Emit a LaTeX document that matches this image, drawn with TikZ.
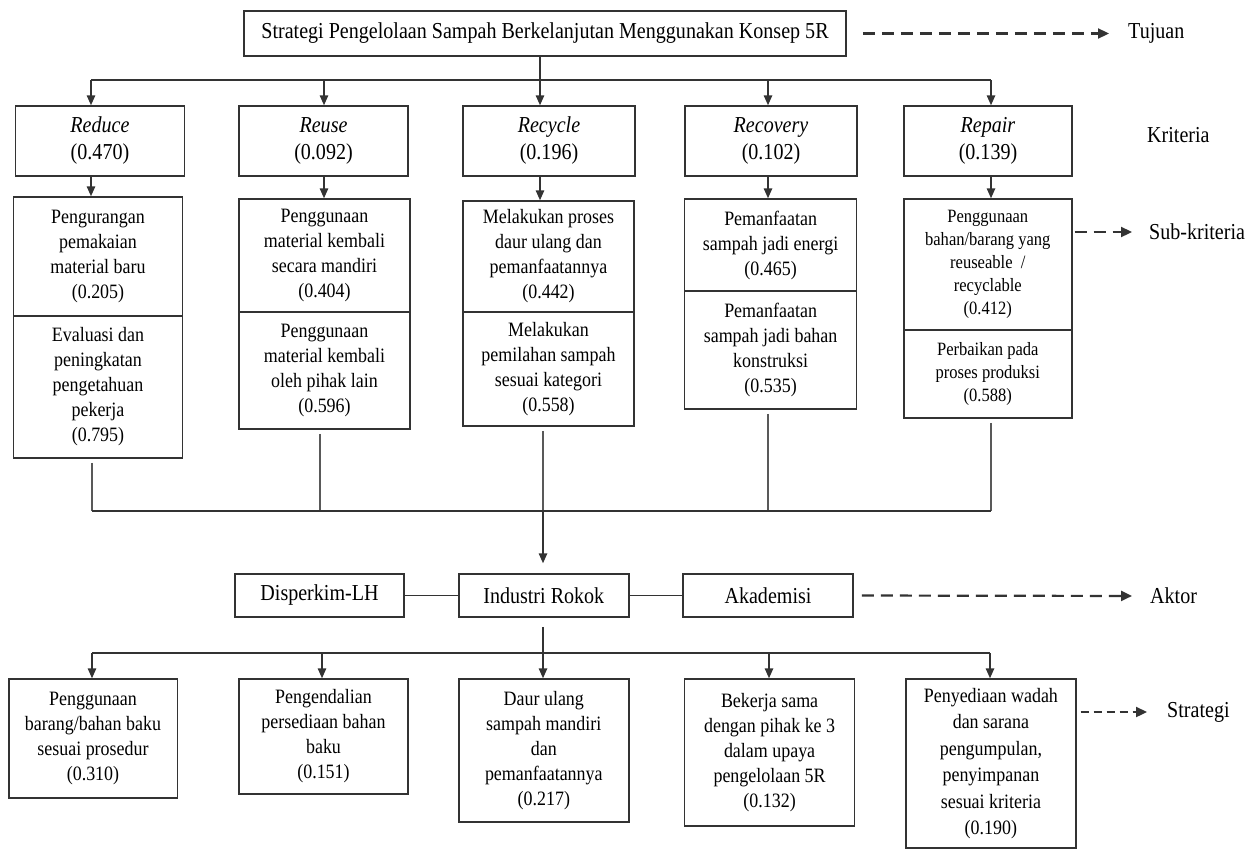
\documentclass[tikz,border=0pt]{standalone}
\usepackage{fontspec}
\setmainfont{Liberation Serif}[FakeStretch=0.88]
\usetikzlibrary{arrows.meta}
\begin{document}
\begin{tikzpicture}[x=1pt,y=-1pt,
  box/.style={draw=black!80, line width=1.5pt, align=center, inner sep=0pt, font=\fontsize{20.4}{25}\selectfont, text=black},
  bigbox/.style={box, font=\fontsize{22.8}{27}\selectfont},
  smallbox/.style={box, font=\fontsize{18.8}{23}\selectfont},
  ln/.style={draw=black!80, line width=1.5pt},
  thinln/.style={draw=black!65, line width=1.1pt},
  arr/.style={ln, -{Triangle[length=10pt,width=8.5pt]}},
  darr/.style={ln, line width=2.2pt, dash pattern=on 12pt off 7pt, -{Triangle[length=11pt,width=10pt]}},
  lbl/.style={font=\fontsize{22.8}{26}\selectfont, anchor=west, inner sep=0pt, text=black}]
\useasboundingbox (0,0) rectangle (1257,851);

% goal
\node[bigbox, minimum width=602pt, minimum height=45pt] (title) at (545,33.5)
  {Strategi Pengelolaan Sampah Berkelanjutan Menggunakan Konsep 5R};
\node[lbl] (tuj) at (1128,33.5) {Tujuan};
\draw[darr, shorten <=16pt, shorten >=19pt] (title.east) -- (tuj.west);

% criteria
\node[bigbox, minimum width=169pt, minimum height=70pt] (rd) at (100,141) {\textit{Reduce}\\(0.470)};
\node[bigbox, minimum width=169pt, minimum height=70pt] (ru) at (323.5,141) {\textit{Reuse}\\(0.092)};
\node[bigbox, minimum width=172pt, minimum height=70pt] (rc) at (549,141) {\textit{Recycle}\\(0.196)};
\node[bigbox, minimum width=172pt, minimum height=70pt] (rv) at (771,141) {\textit{Recovery}\\(0.102)};
\node[bigbox, minimum width=168pt, minimum height=70pt] (rp) at (988,141) {\textit{Repair}\\(0.139)};
\node[lbl] (krit) at (1147,135) {Kriteria};

\coordinate (t1) at (91,80);
\coordinate (t2) at (324,80);
\coordinate (t3) at (540,80);
\coordinate (t4) at (768,80);
\coordinate (t5) at (991,80);
\draw[ln] (t1) -- (t5);
\draw[arr] (t3 |- title.south) -- (t3 |- rc.north);
\draw[arr] (t1) -- (t1 |- rd.north);
\draw[arr] (t2) -- (t2 |- ru.north);
\draw[arr] (t4) -- (t4 |- rv.north);
\draw[arr] (t5) -- (t5 |- rp.north);

% sub-criteria
\node[box, minimum width=169pt, minimum height=119pt] (rdA) at (98,256.5) {Pengurangan\\pemakaian\\material baru\\(0.205)};
\node[box, minimum width=169pt, minimum height=142pt] (rdB) at (98,387) {Evaluasi dan\\peningkatan\\pengetahuan\\pekerja\\(0.795)};
\node[box, minimum width=171pt, minimum height=113pt] (ruA) at (324.5,255.5) {Penggunaan\\material kembali\\secara mandiri\\(0.404)};
\node[box, minimum width=171pt, minimum height=117pt] (ruB) at (324.5,370.5) {Penggunaan\\material kembali\\oleh pihak lain\\(0.596)};
\node[box, minimum width=171pt, minimum height=111pt] (rcA) at (548.5,256.5) {Melakukan proses\\daur ulang dan\\pemanfaatannya\\(0.442)};
\node[box, minimum width=171pt, minimum height=114pt] (rcB) at (548.5,369) {Melakukan\\pemilahan sampah\\sesuai kategori\\(0.558)};
\node[box, minimum width=172pt, minimum height=92pt] (rvA) at (770.6,245) {Pemanfaatan\\sampah jadi energi\\(0.465)};
\node[box, minimum width=172pt, minimum height=118pt] (rvB) at (770.6,350) {Pemanfaatan\\sampah jadi bahan\\konstruksi\\(0.535)};
\node[smallbox, minimum width=168pt, minimum height=131pt] (rpA) at (987.8,264.5) {Penggunaan\\bahan/barang yang\\reuseable~~/\\recyclable\\(0.412)};
\node[smallbox, minimum width=168pt, minimum height=88pt] (rpB) at (987.8,374) {Perbaikan pada\\proses produksi\\(0.588)};
\node[lbl] (subk) at (1149,232) {Sub-kriteria};
\draw[darr, shorten <=2pt, shorten >=17pt] (subk.west -| rpA.east) -- (subk.west);

\draw[arr] (t1 |- rd.south) -- (t1 |- rdA.north);
\draw[arr] (t2 |- ru.south) -- (t2 |- ruA.north);
\draw[arr] (t3 |- rc.south) -- (t3 |- rcA.north);
\draw[arr] (t4 |- rv.south) -- (t4 |- rvA.north);
\draw[arr] (t5 |- rp.south) -- (t5 |- rpA.north);

% merge
\coordinate (m1) at (92,511);
\coordinate (m2) at (320,511);
\coordinate (m3) at (543,511);
\coordinate (m4) at (768,511);
\coordinate (m5) at (991,511);
\draw[thinln, shorten <=4pt] (m1 |- rdB.south) -- (m1);
\draw[thinln, shorten <=4pt] (m2 |- ruB.south) -- (m2);
\draw[thinln, shorten <=4pt] (m3 |- rcB.south) -- (m3);
\draw[thinln, shorten <=4pt] (m4 |- rvB.south) -- (m4);
\draw[thinln, shorten <=4pt] (m5 |- rpB.south) -- (m5);
\draw[ln] (m1) -- (m5);

% actors
\node[bigbox, font=\fontsize{22.8}{26}\selectfont, minimum width=169pt, minimum height=43pt] (dis) at (319.5,595.5) {Disperkim-LH};
\node[bigbox, font=\fontsize{22.8}{26}\selectfont, minimum width=170pt, minimum height=43pt] (ind) at (543.8,595.5) {Industri Rokok};
\node[bigbox, font=\fontsize{22.8}{26}\selectfont, minimum width=170pt, minimum height=43pt] (aka) at (768,595.5) {Akademisi};
\draw[arr, shorten >=10pt] (m3) -- (m3 |- ind.north);
\draw[ln] (dis) -- (ind);
\draw[ln] (ind) -- (aka);
\node[lbl] (akt) at (1150,596) {Aktor};
\draw[darr, shorten <=8pt, shorten >=18pt] (aka.east) -- (akt.west);

% strategies
\node[box, minimum width=168.5pt, minimum height=119pt] (st1) at (93,738.5) {Penggunaan\\barang/bahan baku\\sesuai prosedur\\(0.310)};
\node[box, minimum width=169pt, minimum height=115pt] (st2) at (323.5,736.5) {Pengendalian\\persediaan bahan\\baku\\(0.151)};
\node[box, minimum width=170pt, minimum height=143pt] (st3) at (543.8,750.5) {Daur ulang\\sampah mandiri\\dan\\pemanfaatannya\\(0.217)};
\node[box, minimum width=170pt, minimum height=147pt] (st4) at (769.6,752.5) {Bekerja sama\\dengan pihak ke 3\\dalam upaya\\pengelolaan 5R\\(0.132)};
\node[box, font=\fontsize{20.4}{26.5}\selectfont, minimum width=170pt, minimum height=169pt] (st5) at (990.9,763.5) {Penyediaan wadah\\dan sarana\\pengumpulan,\\penyimpanan\\sesuai kriteria\\(0.190)};
\node[lbl] (strat) at (1167,712) {Strategi};
\draw[darr, dash pattern=on 8pt off 5pt, shorten <=4pt, shorten >=20pt] (strat.west -| st5.east) -- (strat.west);

\coordinate (s1) at (92,653);
\coordinate (s2) at (322,653);
\coordinate (s3) at (543,653);
\coordinate (s4) at (769,653);
\coordinate (s5) at (990,653);
\draw[ln] (s1) -- (s5);
\draw[arr, shorten <=9pt] (s3 |- ind.south) -- (s3 |- st3.north);
\draw[arr] (s1) -- (s1 |- st1.north);
\draw[arr] (s2) -- (s2 |- st2.north);
\draw[arr] (s4) -- (s4 |- st4.north);
\draw[arr] (s5) -- (s5 |- st5.north);
\end{tikzpicture}
\end{document}
